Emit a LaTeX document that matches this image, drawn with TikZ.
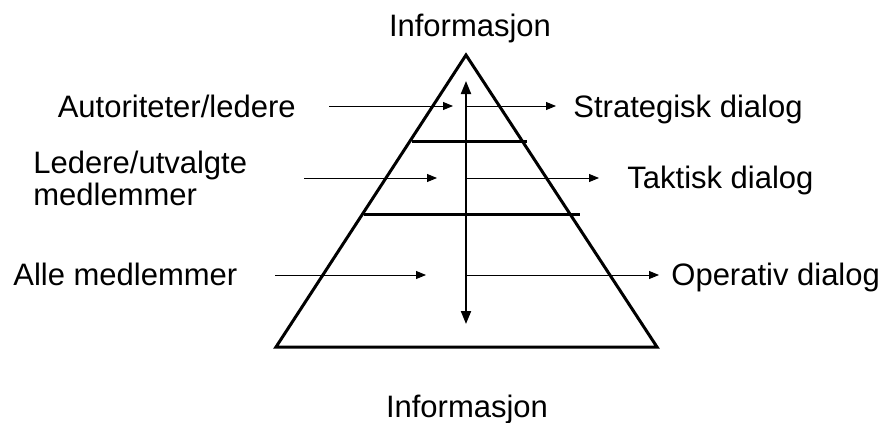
\documentclass[tikz,border=0pt]{standalone}
\usepackage{fontspec}
\setmainfont{Liberation Sans}
\usetikzlibrary{arrows.meta}
\begin{document}
\begin{tikzpicture}[x=0.5pt,y=-0.5pt,
  lbl/.style={inner sep=0pt,font=\fontsize{15.5}{15}\selectfont},
  thin arrow/.style={line width=0.5pt,-{Triangle[length=5pt,width=4pt]}},
  thick line/.style={line width=1.5pt},
  big arrow/.style={line width=1pt,{Triangle[length=6.5pt,width=5pt]}-{Triangle[length=6.5pt,width=5pt]}}]
\useasboundingbox (0,0) rectangle (885,423);
% pyramid
\coordinate (apex) at (466,55);
\coordinate (bl) at (276,347);
\coordinate (br) at (657,347);
\draw[thick line,line join=miter] (apex) -- (bl) -- (br) -- cycle;
\coordinate (l1a) at (412,141); \coordinate (l1b) at (527,141);
\coordinate (l2a) at (364,214); \coordinate (l2b) at (580,214);
\draw[thick line] (l1a) -- (l1b);
\draw[thick line] (l2a) -- (l2b);
% vertical double arrow
\coordinate (vt) at (466,81);
\coordinate (vb) at (466,324);
\draw[big arrow] (vt) -- (vb);
% texts
\node[lbl,anchor=base] (infotop) at (470,36) {Informasjon};
\node[lbl,anchor=base] (infobot) at (467,417) {Informasjon};
\node[lbl,anchor=base east] (aut) at (296,117) {Autoriteter/ledere};
\node[lbl,anchor=base west] (led) at (33,173) {Ledere/utvalgte};
\node[lbl,anchor=base west] (led2) at (33,205) {medlemmer};
\node[lbl,anchor=base west] (alle) at (13,285) {Alle medlemmer};
\node[lbl,anchor=base west] (str) at (573,117) {Strategisk dialog};
\node[lbl,anchor=base west] (tak) at (627,188) {Taktisk dialog};
\node[lbl,anchor=base west] (ope) at (671,285) {Operativ dialog};
% incoming arrows
\coordinate (i1s) at (329,106); \coordinate (i1e) at (453,106);
\coordinate (i2s) at (304,178); \coordinate (i2e) at (437,178);
\coordinate (i3s) at (275,275); \coordinate (i3e) at (426,275);
\draw[thin arrow] (i1s) -- (i1e);
\draw[thin arrow] (i2s) -- (i2e);
\draw[thin arrow] (i3s) -- (i3e);
% outgoing arrows
\coordinate (o1s) at (466,106); \coordinate (o1e) at (556,106);
\coordinate (o2s) at (466,178); \coordinate (o2e) at (599,178);
\coordinate (o3s) at (466,275); \coordinate (o3e) at (659,275);
\draw[thin arrow] (o1s) -- (o1e);
\draw[thin arrow] (o2s) -- (o2e);
\draw[thin arrow] (o3s) -- (o3e);
\end{tikzpicture}
\end{document}
